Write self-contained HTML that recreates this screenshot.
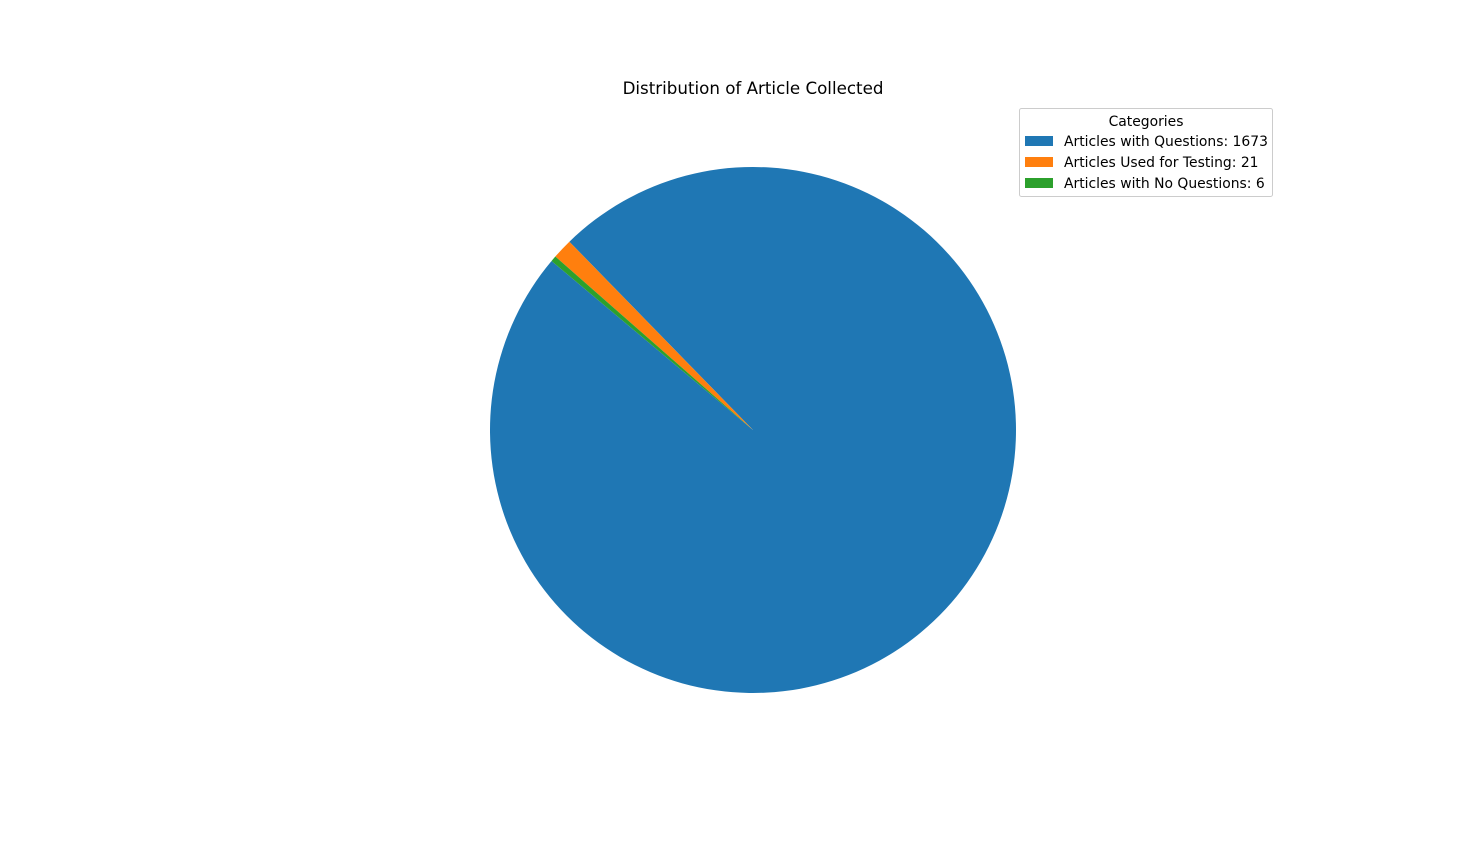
<!DOCTYPE html>
<html><head><meta charset="utf-8"><style>
html,body{margin:0;padding:0;background:#fff;}
svg{display:block;font-family:"DejaVu Sans","Liberation Sans",sans-serif;}
</style></head><body>
<svg id="chart" width="1470" height="853">
<text x="753" y="94" text-anchor="middle" font-size="16.7" fill="#000">Distribution of Article Collected</text>
<g id="slices"></g>
<g id="legend">
<rect x="1019.5" y="108.5" width="253" height="88" rx="2" fill="#fff" stroke="#ccc"/>
<text x="1146" y="126" text-anchor="middle" font-size="13.9" fill="#000">Categories</text>
</g>
</svg>
<script>
const categories = ["Articles with Questions", "Articles Used for Testing", "Articles with No Questions"];
const values = [1673, 21, 6];
const colors = ["#1f77b4", "#ff7f0e", "#2ca02c"];
const startAngle = 140;
const cx = 753, cy = 430, r = 263;
const NS = "http://www.w3.org/2000/svg";
const total = values.reduce((a, b) => a + b, 0);
const pt = a => [cx + r * Math.cos(a * Math.PI / 180), cy - r * Math.sin(a * Math.PI / 180)];
let ang = startAngle;
const g = document.getElementById("slices");
values.forEach((v, i) => {
  const sweep = v / total * 360;
  const [x1, y1] = pt(ang), [x2, y2] = pt(ang + sweep);
  const large = sweep > 180 ? 1 : 0;
  const p = document.createElementNS(NS, "path");
  p.setAttribute("d", `M${cx},${cy} L${x1},${y1} A${r},${r} 0 ${large} 0 ${x2},${y2} Z`);
  p.setAttribute("fill", colors[i]);
  
  
  g.appendChild(p);
  ang += sweep;
});
const lg = document.getElementById("legend");
categories.forEach((c, i) => {
  const y = 141 + i * 21;
  const rc = document.createElementNS(NS, "rect");
  rc.setAttribute("x", 1025); rc.setAttribute("y", y - 5);
  rc.setAttribute("width", 28); rc.setAttribute("height", 10);
  rc.setAttribute("fill", colors[i]);
  
  
  lg.appendChild(rc);
  const t = document.createElementNS(NS, "text");
  t.setAttribute("x", 1064); t.setAttribute("y", y + 5);
  t.setAttribute("font-size", "13.9");
  t.textContent = c + ": " + values[i];
  
  
  lg.appendChild(t);
});
</script>
</body></html>
